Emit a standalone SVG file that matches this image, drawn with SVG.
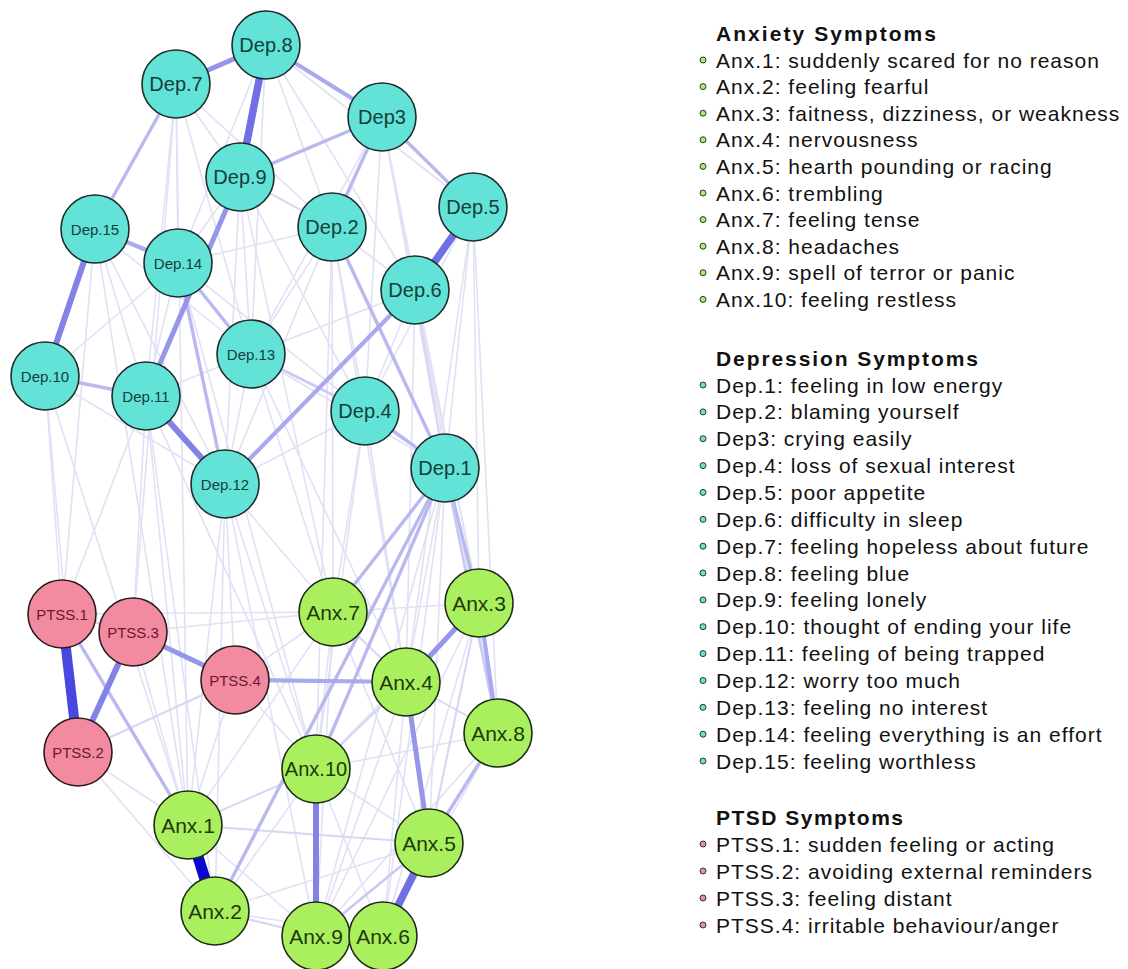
<svg xmlns="http://www.w3.org/2000/svg" width="1128" height="969" viewBox="0 0 1128 969">
<style>
.e0{stroke:#e1e1f6;stroke-width:1.6;fill:none}
.e1{stroke:#d6d6f5;stroke-width:2;fill:none}
.e2{stroke:#c9c9f3;stroke-width:2.6;fill:none}
.e3{stroke:#b9b9f0;stroke-width:3.4;fill:none}
.e4{stroke:#a9a9ee;stroke-width:4.2;fill:none}
.e5{stroke:#9595ea;stroke-width:5;fill:none}
.e6{stroke:#8282e7;stroke-width:6;fill:none}
.e7{stroke:#7070e4;stroke-width:7.5;fill:none}
.e8{stroke:#4848e0;stroke-width:10;fill:none}
.e9{stroke:#0808cc;stroke-width:11;fill:none}
.dep circle{fill:#63e2d7;stroke:#1d2b2a;stroke-width:1.6}
.anx circle{fill:#aaef5e;stroke:#1d2b16;stroke-width:1.6}
.pts circle{fill:#f28aa0;stroke:#2b1a1d;stroke-width:1.6}
.dep text{fill:#12403c}
.anx text{fill:#1d3a0a}
.pts text{fill:#6a1a2e}
text{font-family:"Liberation Sans",Arial,sans-serif}
.nl{text-anchor:middle;dominant-baseline:central}
.big{font-size:20px}
.sm{font-size:15px}
.ax{font-size:21px}
.lg{font-size:21px;letter-spacing:1px;fill:#111}
.hd{font-size:21px;font-weight:bold;fill:#111}
.ba{fill:#aaef5e;stroke:#333;stroke-width:1}
.bd{fill:#63e2d7;stroke:#333;stroke-width:1}
.bp{fill:#f28aa0;stroke:#333;stroke-width:1}
</style>
<rect width="1128" height="969" fill="#ffffff"/>
<g id="connectors">
<line class="e0" x1="176" y1="84" x2="240" y2="177"/>
<line class="e0" x1="176" y1="84" x2="178" y2="263"/>
<line class="e0" x1="176" y1="84" x2="146" y2="396"/>
<line class="e0" x1="176" y1="84" x2="251" y2="354"/>
<line class="e0" x1="176" y1="84" x2="332" y2="227"/>
<line class="e0" x1="266" y1="45" x2="332" y2="227"/>
<line class="e0" x1="266" y1="45" x2="178" y2="263"/>
<line class="e0" x1="266" y1="45" x2="251" y2="354"/>
<line class="e0" x1="266" y1="45" x2="415" y2="290"/>
<line class="e0" x1="266" y1="45" x2="473" y2="207"/>
<line class="e0" x1="240" y1="177" x2="178" y2="263"/>
<line class="e0" x1="240" y1="177" x2="251" y2="354"/>
<line class="e0" x1="240" y1="177" x2="225" y2="484"/>
<line class="e0" x1="240" y1="177" x2="365" y2="411"/>
<line class="e0" x1="382" y1="117" x2="415" y2="290"/>
<line class="e0" x1="382" y1="117" x2="445" y2="468"/>
<line class="e0" x1="382" y1="117" x2="365" y2="411"/>
<line class="e0" x1="382" y1="117" x2="251" y2="354"/>
<line class="e0" x1="332" y1="227" x2="415" y2="290"/>
<line class="e0" x1="332" y1="227" x2="365" y2="411"/>
<line class="e0" x1="332" y1="227" x2="251" y2="354"/>
<line class="e0" x1="332" y1="227" x2="225" y2="484"/>
<line class="e0" x1="473" y1="207" x2="445" y2="468"/>
<line class="e0" x1="473" y1="207" x2="365" y2="411"/>
<line class="e0" x1="473" y1="207" x2="479" y2="603"/>
<line class="e0" x1="473" y1="207" x2="498" y2="733"/>
<line class="e0" x1="415" y1="290" x2="365" y2="411"/>
<line class="e0" x1="415" y1="290" x2="251" y2="354"/>
<line class="e0" x1="95" y1="229" x2="146" y2="396"/>
<line class="e0" x1="95" y1="229" x2="251" y2="354"/>
<line class="e0" x1="95" y1="229" x2="225" y2="484"/>
<line class="e0" x1="178" y1="263" x2="146" y2="396"/>
<line class="e0" x1="178" y1="263" x2="45" y2="376"/>
<line class="e0" x1="178" y1="263" x2="365" y2="411"/>
<line class="e0" x1="178" y1="263" x2="332" y2="227"/>
<line class="e0" x1="251" y1="354" x2="146" y2="396"/>
<line class="e0" x1="251" y1="354" x2="225" y2="484"/>
<line class="e0" x1="251" y1="354" x2="445" y2="468"/>
<line class="e0" x1="45" y1="376" x2="225" y2="484"/>
<line class="e0" x1="45" y1="376" x2="62" y2="614"/>
<line class="e0" x1="146" y1="396" x2="133" y2="632"/>
<line class="e0" x1="146" y1="396" x2="62" y2="614"/>
<line class="e0" x1="225" y1="484" x2="235" y2="680"/>
<line class="e0" x1="225" y1="484" x2="333" y2="612"/>
<line class="e0" x1="225" y1="484" x2="188" y2="825"/>
<line class="e0" x1="225" y1="484" x2="316" y2="769"/>
<line class="e0" x1="225" y1="484" x2="215" y2="911"/>
<line class="e0" x1="225" y1="484" x2="316" y2="936"/>
<line class="e0" x1="225" y1="484" x2="365" y2="411"/>
<line class="e0" x1="365" y1="411" x2="333" y2="612"/>
<line class="e0" x1="365" y1="411" x2="406" y2="682"/>
<line class="e0" x1="365" y1="411" x2="316" y2="769"/>
<line class="e0" x1="365" y1="411" x2="429" y2="843"/>
<line class="e0" x1="445" y1="468" x2="406" y2="682"/>
<line class="e0" x1="445" y1="468" x2="429" y2="843"/>
<line class="e0" x1="445" y1="468" x2="383" y2="936"/>
<line class="e0" x1="445" y1="468" x2="316" y2="936"/>
<line class="e0" x1="251" y1="354" x2="333" y2="612"/>
<line class="e0" x1="251" y1="354" x2="406" y2="682"/>
<line class="e0" x1="332" y1="227" x2="333" y2="612"/>
<line class="e0" x1="332" y1="227" x2="406" y2="682"/>
<line class="e0" x1="146" y1="396" x2="188" y2="825"/>
<line class="e0" x1="146" y1="396" x2="316" y2="769"/>
<line class="e0" x1="146" y1="396" x2="215" y2="911"/>
<line class="e0" x1="178" y1="263" x2="316" y2="769"/>
<line class="e0" x1="240" y1="177" x2="333" y2="612"/>
<line class="e0" x1="45" y1="376" x2="78" y2="752"/>
<line class="e0" x1="45" y1="376" x2="188" y2="825"/>
<line class="e0" x1="176" y1="84" x2="133" y2="632"/>
<line class="e0" x1="176" y1="84" x2="188" y2="825"/>
<line class="e0" x1="95" y1="229" x2="62" y2="614"/>
<line class="e0" x1="95" y1="229" x2="188" y2="825"/>
<line class="e0" x1="415" y1="290" x2="479" y2="603"/>
<line class="e0" x1="415" y1="290" x2="498" y2="733"/>
<line class="e0" x1="415" y1="290" x2="406" y2="682"/>
<line class="e0" x1="382" y1="117" x2="479" y2="603"/>
<line class="e0" x1="473" y1="207" x2="406" y2="682"/>
<line class="e0" x1="332" y1="227" x2="316" y2="769"/>
<line class="e0" x1="62" y1="614" x2="333" y2="612"/>
<line class="e0" x1="133" y1="632" x2="333" y2="612"/>
<line class="e0" x1="235" y1="680" x2="333" y2="612"/>
<line class="e0" x1="235" y1="680" x2="316" y2="769"/>
<line class="e0" x1="235" y1="680" x2="188" y2="825"/>
<line class="e0" x1="78" y1="752" x2="188" y2="825"/>
<line class="e0" x1="78" y1="752" x2="215" y2="911"/>
<line class="e0" x1="133" y1="632" x2="188" y2="825"/>
<line class="e0" x1="333" y1="612" x2="316" y2="769"/>
<line class="e0" x1="333" y1="612" x2="479" y2="603"/>
<line class="e0" x1="333" y1="612" x2="316" y2="936"/>
<line class="e0" x1="333" y1="612" x2="429" y2="843"/>
<line class="e0" x1="479" y1="603" x2="316" y2="769"/>
<line class="e0" x1="479" y1="603" x2="383" y2="936"/>
<line class="e0" x1="479" y1="603" x2="316" y2="936"/>
<line class="e0" x1="498" y1="733" x2="316" y2="936"/>
<line class="e0" x1="498" y1="733" x2="383" y2="936"/>
<line class="e0" x1="498" y1="733" x2="316" y2="769"/>
<line class="e0" x1="406" y1="682" x2="316" y2="936"/>
<line class="e0" x1="406" y1="682" x2="383" y2="936"/>
<line class="e0" x1="316" y1="769" x2="429" y2="843"/>
<line class="e0" x1="316" y1="769" x2="383" y2="936"/>
<line class="e0" x1="188" y1="825" x2="316" y2="936"/>
<line class="e0" x1="215" y1="911" x2="383" y2="936"/>
<line class="e0" x1="215" y1="911" x2="429" y2="843"/>
<line class="e0" x1="215" y1="911" x2="316" y2="769"/>
<line class="e0" x1="188" y1="825" x2="333" y2="612"/>
<line class="e1" x1="240" y1="177" x2="332" y2="227"/>
<line class="e1" x1="415" y1="290" x2="445" y2="468"/>
<line class="e1" x1="78" y1="752" x2="235" y2="680"/>
<line class="e1" x1="62" y1="614" x2="133" y2="632"/>
<line class="e1" x1="215" y1="911" x2="316" y2="936"/>
<line class="e1" x1="188" y1="825" x2="316" y2="769"/>
<line class="e1" x1="188" y1="825" x2="429" y2="843"/>
<line class="e1" x1="333" y1="612" x2="406" y2="682"/>
<line class="e1" x1="406" y1="682" x2="498" y2="733"/>
<line class="e1" x1="316" y1="769" x2="406" y2="682"/>
<line class="e1" x1="479" y1="603" x2="429" y2="843"/>
<line class="e1" x1="316" y1="936" x2="383" y2="936"/>
<line class="e3" x1="240" y1="177" x2="382" y2="117"/>
<line class="e3" x1="382" y1="117" x2="473" y2="207"/>
<line class="e3" x1="382" y1="117" x2="332" y2="227"/>
<line class="e3" x1="176" y1="84" x2="95" y2="229"/>
<line class="e3" x1="178" y1="263" x2="251" y2="354"/>
<line class="e3" x1="178" y1="263" x2="225" y2="484"/>
<line class="e3" x1="45" y1="376" x2="146" y2="396"/>
<line class="e2" x1="251" y1="354" x2="365" y2="411"/>
<line class="e3" x1="365" y1="411" x2="445" y2="468"/>
<line class="e3" x1="332" y1="227" x2="445" y2="468"/>
<line class="e3" x1="445" y1="468" x2="479" y2="603"/>
<line class="e2" x1="445" y1="468" x2="498" y2="733"/>
<line class="e3" x1="445" y1="468" x2="333" y2="612"/>
<line class="e3" x1="445" y1="468" x2="316" y2="769"/>
<line class="e3" x1="445" y1="468" x2="215" y2="911"/>
<line class="e3" x1="62" y1="614" x2="188" y2="825"/>
<line class="e3" x1="498" y1="733" x2="429" y2="843"/>
<line class="e2" x1="316" y1="936" x2="429" y2="843"/>
<line class="e4" x1="266" y1="45" x2="382" y2="117"/>
<line class="e4" x1="95" y1="229" x2="178" y2="263"/>
<line class="e4" x1="225" y1="484" x2="415" y2="290"/>
<line class="e4" x1="235" y1="680" x2="406" y2="682"/>
<line class="e4" x1="479" y1="603" x2="498" y2="733"/>
<line class="e5" x1="133" y1="632" x2="235" y2="680"/>
<line class="e5" x1="479" y1="603" x2="406" y2="682"/>
<line class="e5" x1="406" y1="682" x2="429" y2="843"/>
<line class="e5" x1="176" y1="84" x2="266" y2="45"/>
<line class="e5" x1="240" y1="177" x2="146" y2="396"/>
<line class="e6" x1="95" y1="229" x2="45" y2="376"/>
<line class="e6" x1="146" y1="396" x2="225" y2="484"/>
<line class="e6" x1="133" y1="632" x2="78" y2="752"/>
<line class="e6" x1="316" y1="769" x2="316" y2="936"/>
<line class="e7" x1="266" y1="45" x2="240" y2="177"/>
<line class="e7" x1="473" y1="207" x2="415" y2="290"/>
<line class="e7" x1="429" y1="843" x2="383" y2="936"/>
<line class="e8" x1="62" y1="614" x2="78" y2="752"/>
<line class="e9" x1="188" y1="825" x2="215" y2="911"/>
</g>
<g id="node-Dep8" class="dep"><circle cx="266" cy="45" r="34"/><text class="nl big" x="266" y="45">Dep.8</text></g>
<g id="node-Dep7" class="dep"><circle cx="176" cy="84" r="34"/><text class="nl big" x="176" y="84">Dep.7</text></g>
<g id="node-Dep3" class="dep"><circle cx="382" cy="117" r="34"/><text class="nl big" x="382" y="117">Dep3</text></g>
<g id="node-Dep9" class="dep"><circle cx="240" cy="177" r="34"/><text class="nl big" x="240" y="177">Dep.9</text></g>
<g id="node-Dep15" class="dep"><circle cx="95" cy="229" r="34"/><text class="nl sm" x="95" y="229">Dep.15</text></g>
<g id="node-Dep14" class="dep"><circle cx="178" cy="263" r="34"/><text class="nl sm" x="178" y="263">Dep.14</text></g>
<g id="node-Dep2" class="dep"><circle cx="332" cy="227" r="34"/><text class="nl big" x="332" y="227">Dep.2</text></g>
<g id="node-Dep5" class="dep"><circle cx="473" cy="207" r="34"/><text class="nl big" x="473" y="207">Dep.5</text></g>
<g id="node-Dep6" class="dep"><circle cx="415" cy="290" r="34"/><text class="nl big" x="415" y="290">Dep.6</text></g>
<g id="node-Dep13" class="dep"><circle cx="251" cy="354" r="34"/><text class="nl sm" x="251" y="354">Dep.13</text></g>
<g id="node-Dep10" class="dep"><circle cx="45" cy="376" r="34"/><text class="nl sm" x="45" y="376">Dep.10</text></g>
<g id="node-Dep11" class="dep"><circle cx="146" cy="396" r="34"/><text class="nl sm" x="146" y="396">Dep.11</text></g>
<g id="node-Dep4" class="dep"><circle cx="365" cy="411" r="34"/><text class="nl big" x="365" y="411">Dep.4</text></g>
<g id="node-Dep1" class="dep"><circle cx="445" cy="468" r="34"/><text class="nl big" x="445" y="468">Dep.1</text></g>
<g id="node-Dep12" class="dep"><circle cx="225" cy="484" r="34"/><text class="nl sm" x="225" y="484">Dep.12</text></g>
<g id="node-PTSS1" class="pts"><circle cx="62" cy="614" r="34"/><text class="nl sm" x="62" y="614">PTSS.1</text></g>
<g id="node-PTSS3" class="pts"><circle cx="133" cy="632" r="34"/><text class="nl sm" x="133" y="632">PTSS.3</text></g>
<g id="node-PTSS4" class="pts"><circle cx="235" cy="680" r="34"/><text class="nl sm" x="235" y="680">PTSS.4</text></g>
<g id="node-PTSS2" class="pts"><circle cx="78" cy="752" r="34"/><text class="nl sm" x="78" y="752">PTSS.2</text></g>
<g id="node-Anx7" class="anx"><circle cx="333" cy="612" r="34"/><text class="nl ax" x="333" y="612">Anx.7</text></g>
<g id="node-Anx3" class="anx"><circle cx="479" cy="603" r="34"/><text class="nl ax" x="479" y="603">Anx.3</text></g>
<g id="node-Anx4" class="anx"><circle cx="406" cy="682" r="34"/><text class="nl ax" x="406" y="682">Anx.4</text></g>
<g id="node-Anx8" class="anx"><circle cx="498" cy="733" r="34"/><text class="nl ax" x="498" y="733">Anx.8</text></g>
<g id="node-Anx10" class="anx"><circle cx="316" cy="769" r="34"/><text class="nl big" x="316" y="769">Anx.10</text></g>
<g id="node-Anx5" class="anx"><circle cx="429" cy="843" r="34"/><text class="nl ax" x="429" y="843">Anx.5</text></g>
<g id="node-Anx1" class="anx"><circle cx="188" cy="825" r="34"/><text class="nl ax" x="188" y="825">Anx.1</text></g>
<g id="node-Anx2" class="anx"><circle cx="215" cy="911" r="34"/><text class="nl ax" x="215" y="911">Anx.2</text></g>
<g id="node-Anx9" class="anx"><circle cx="316" cy="936" r="34"/><text class="nl ax" x="316" y="936">Anx.9</text></g>
<g id="node-Anx6" class="anx"><circle cx="383" cy="936" r="34"/><text class="nl ax" x="383" y="936">Anx.6</text></g>
<g id="legend">
<text class="hd" x="716" y="41" textLength="220" lengthAdjust="spacing">Anxiety Symptoms</text>
<circle class="ba" cx="703" cy="60" r="3"/><text class="lg" x="716" y="67.5">Anx.1: suddenly scared for no reason</text>
<circle class="ba" cx="703" cy="86.6" r="3"/><text class="lg" x="716" y="94">Anx.2: feeling fearful</text>
<circle class="ba" cx="703" cy="113.2" r="3"/><text class="lg" x="716" y="120.7">Anx.3: faitness, dizziness, or weakness</text>
<circle class="ba" cx="703" cy="139.8" r="3"/><text class="lg" x="716" y="147.3">Anx.4: nervousness</text>
<circle class="ba" cx="703" cy="166.4" r="3"/><text class="lg" x="716" y="173.9">Anx.5: hearth pounding or racing</text>
<circle class="ba" cx="703" cy="193" r="3"/><text class="lg" x="716" y="200.5">Anx.6: trembling</text>
<circle class="ba" cx="703" cy="219.6" r="3"/><text class="lg" x="716" y="227.1">Anx.7: feeling tense</text>
<circle class="ba" cx="703" cy="246.2" r="3"/><text class="lg" x="716" y="253.7">Anx.8: headaches</text>
<circle class="ba" cx="703" cy="272.8" r="3"/><text class="lg" x="716" y="280.3">Anx.9: spell of terror or panic</text>
<circle class="ba" cx="703" cy="299.4" r="3"/><text class="lg" x="716" y="306.9">Anx.10: feeling restless</text>
<text class="hd" x="716" y="365.5" textLength="262" lengthAdjust="spacing">Depression Symptoms</text>
<circle class="bd" cx="703" cy="385" r="3"/><text class="lg" x="716" y="392.5">Dep.1: feeling in low energy</text>
<circle class="bd" cx="703" cy="411.9" r="3"/><text class="lg" x="716" y="419.4">Dep.2: blaming yourself</text>
<circle class="bd" cx="703" cy="438.7" r="3"/><text class="lg" x="716" y="446.2">Dep3: crying easily</text>
<circle class="bd" cx="703" cy="465.6" r="3"/><text class="lg" x="716" y="473.1">Dep.4: loss of sexual interest</text>
<circle class="bd" cx="703" cy="492.4" r="3"/><text class="lg" x="716" y="499.9">Dep.5: poor appetite</text>
<circle class="bd" cx="703" cy="519.3" r="3"/><text class="lg" x="716" y="526.8">Dep.6: difficulty in sleep</text>
<circle class="bd" cx="703" cy="546.2" r="3"/><text class="lg" x="716" y="553.7">Dep.7: feeling hopeless about future</text>
<circle class="bd" cx="703" cy="573" r="3"/><text class="lg" x="716" y="580.5">Dep.8: feeling blue</text>
<circle class="bd" cx="703" cy="599.9" r="3"/><text class="lg" x="716" y="607.4">Dep.9: feeling lonely</text>
<circle class="bd" cx="703" cy="626.7" r="3"/><text class="lg" x="716" y="634.2">Dep.10: thought of ending your life</text>
<circle class="bd" cx="703" cy="653.6" r="3"/><text class="lg" x="716" y="661.1">Dep.11: feeling of being trapped</text>
<circle class="bd" cx="703" cy="680.5" r="3"/><text class="lg" x="716" y="688">Dep.12: worry too much</text>
<circle class="bd" cx="703" cy="707.3" r="3"/><text class="lg" x="716" y="714.8">Dep.13: feeling no interest</text>
<circle class="bd" cx="703" cy="734.2" r="3"/><text class="lg" x="716" y="741.7">Dep.14: feeling everything is an effort</text>
<circle class="bd" cx="703" cy="761" r="3"/><text class="lg" x="716" y="768.5">Dep.15: feeling worthless</text>
<text class="hd" x="716" y="824.5" textLength="187" lengthAdjust="spacing">PTSD Symptoms</text>
<circle class="bp" cx="703" cy="844" r="3"/><text class="lg" x="716" y="851.5">PTSS.1: sudden feeling or acting</text>
<circle class="bp" cx="703" cy="871" r="3"/><text class="lg" x="716" y="878.5">PTSS.2: avoiding external reminders</text>
<circle class="bp" cx="703" cy="898" r="3"/><text class="lg" x="716" y="905.5">PTSS.3: feeling distant</text>
<circle class="bp" cx="703" cy="925" r="3"/><text class="lg" x="716" y="932.5">PTSS.4: irritable behaviour/anger</text>
</g>
</svg>
